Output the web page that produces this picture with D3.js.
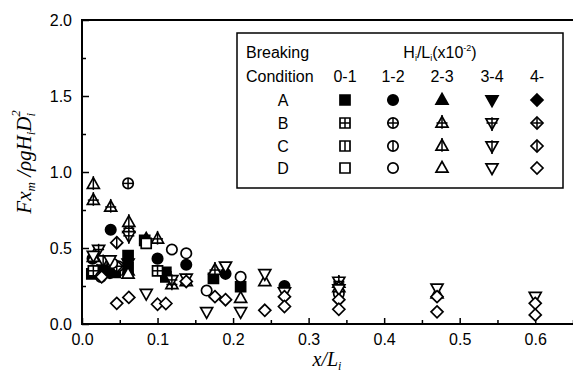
<!DOCTYPE html>
<html><head><meta charset="utf-8">
<script src="https://cdn.jsdelivr.net/npm/d3@7"></script>
<style>body{margin:0;background:#fff}svg{display:block}</style></head>
<body>
<svg id="c" width="573" height="374"></svg>
<script>
// ---- data ----
const xTicks = [0, 0.1, 0.2, 0.3, 0.4, 0.5, 0.6];
const xMinor = [0.05, 0.15, 0.25, 0.35, 0.45, 0.55, 0.65];
const yTicks = [0, 0.5, 1.0, 1.5, 2.0];
const yMinor = [0.25, 0.75, 1.25, 1.75];
const conditions = ["A", "B", "C", "D"];
const steepness = ["0-1", "1-2", "2-3", "3-4", "4-"];
const shapes = ["square", "circle", "triUp", "triDown", "diamond"];

// series: condition + steepness class, [x/L, F]
const A_01 = [[0.013,0.33],[0.044,0.34],[0.061,0.45],[0.061,0.37],[0.083,0.55],[0.111,0.34],[0.111,0.31],[0.174,0.30],[0.21,0.245]];
const A_12 = [[0.014,0.43],[0.037,0.335],[0.038,0.62],[0.10,0.43],[0.138,0.39],[0.19,0.33],[0.268,0.25]];
const A_23 = [[0.085,0.56],[0.061,0.35]];
const A_34 = [[0.061,0.40],[0.03,0.36]];
const A_4  = [[0.02,0.35]];
const B_01 = [[0.015,0.35],[0.10,0.35]];
const B_12 = [[0.061,0.925],[0.048,0.38]];
const B_23 = [[0.015,0.815],[0.038,0.77],[0.062,0.63],[0.10,0.56],[0.176,0.355],[0.119,0.26],[0.34,0.27]];
const B_34 = [[0.022,0.49],[0.062,0.58],[0.119,0.29],[0.34,0.28]];
const B_4  = [[0.046,0.38]];
const C_01 = [];
const C_12 = [];
const C_23 = [[0.015,0.92],[0.062,0.67]];
const C_34 = [[0.028,0.42]];
const C_4  = [[0.046,0.535]];
const D_01 = [[0.085,0.53]];
const D_12 = [[0.119,0.49],[0.138,0.465],[0.165,0.22],[0.21,0.31],[0.34,0.20],[0.025,0.31],[0.04,0.40]];
const D_23 = [[0.061,0.33],[0.21,0.17],[0.242,0.28],[0.138,0.28],[0.47,0.20],[0.34,0.24],[0.015,0.44]];
const D_34 = [[0.037,0.42],[0.085,0.20],[0.138,0.30],[0.165,0.08],[0.19,0.38],[0.21,0.08],[0.242,0.33],[0.268,0.21],[0.47,0.235],[0.60,0.18],[0.34,0.23],[0.015,0.45]];
const D_4  = [[0.026,0.31],[0.046,0.136],[0.062,0.175],[0.10,0.13],[0.111,0.135],[0.138,0.28],[0.176,0.18],[0.19,0.16],[0.242,0.09],[0.268,0.18],[0.268,0.115],[0.34,0.16],[0.34,0.097],[0.47,0.18],[0.47,0.08],[0.60,0.136],[0.60,0.06]];

const series = {
  A: [A_01, A_12, A_23, A_34, A_4],
  B: [B_01, B_12, B_23, B_34, B_4],
  C: [C_01, C_12, C_23, C_34, C_4],
  D: [D_01, D_12, D_23, D_34, D_4]
};

// ---- drawing ----
const svg = d3.select("#c");
const x = d3.scaleLinear().domain([0, 0.65]).range([82, 573]);
const y = d3.scaleLinear().domain([0, 2]).range([324, 20]);

function shapePath(s) {
  switch (s) {
    case "square": return "M-5,-5H5V5H-5Z";
    case "circle": return "M5.2,0A5.2,5.2 0 1,1 -5.2,0A5.2,5.2 0 1,1 5.2,0Z";
    case "triUp": return "M0,-6.5L6,4.2L-6,4.2Z";
    case "triDown": return "M0,6.5L6,-4.2L-6,-4.2Z";
    case "diamond": return "M0,-6L6,0L0,6L-6,0Z";
  }
}
const ext = {square:[5,5,5], circle:[5.2,5.2,5.2], triUp:[6.5,4.2,6], triDown:[4.2,6.5,6], diamond:[6,6,6]};

function marker(g, cx, cy, shape, cond) {
  const m = g.append("g").attr("transform", `translate(${cx},${cy})`);
  m.append("path").attr("d", shapePath(shape))
    .attr("fill", cond === "A" ? "#000" : "#fff")
    .attr("stroke", "#000").attr("stroke-width", 1.7).attr("stroke-linejoin", "miter");
  const [top, bot, half] = ext[shape];
  if (cond === "B" || cond === "C") {
    const o = shape.startsWith("tri") ? 1.5 : 0;
    m.append("line").attr("x1", 0).attr("x2", 0).attr("y1", -top - o).attr("y2", bot + o)
      .attr("stroke", "#000").attr("stroke-width", 1.5);
  }
  if (cond === "B") {
    const o = shape.startsWith("tri") ? 1 : 0;
    const hh = shape.startsWith("tri") ? 4.5 : half;
    m.append("line").attr("x1", -hh - o).attr("x2", hh + o).attr("y1", 0).attr("y2", 0)
      .attr("stroke", "#000").attr("stroke-width", 1.5);
  }
}

// frame
svg.append("rect").attr("x", x(0)).attr("y", y(2)).attr("width", 620).attr("height", y(0) - y(2))
  .attr("fill", "none").attr("stroke", "#000").attr("stroke-width", 2);

const fontSans = "'Liberation Sans', Arial, sans-serif";
const fontSerif = "'Liberation Serif', 'Times New Roman', serif";

svg.append("g").attr("transform", `translate(0,${y(0)})`)
  .call(d3.axisBottom(x).tickValues(xTicks).tickSize(-6).tickPadding(10).tickFormat(d3.format(".1f")));
svg.append("g").attr("transform", `translate(0,${y(0)})`)
  .call(d3.axisBottom(x).tickValues(xMinor).tickSize(-4).tickFormat(""));
svg.append("g").attr("transform", `translate(${x(0)},0)`)
  .call(d3.axisLeft(y).tickValues(yTicks).tickSize(-7).tickPadding(10).tickFormat(d3.format(".1f")));
svg.append("g").attr("transform", `translate(${x(0)},0)`)
  .call(d3.axisLeft(y).tickValues(yMinor).tickSize(-4).tickFormat(""));
svg.selectAll(".domain").remove();
svg.selectAll(".tick line").attr("stroke", "#000").attr("stroke-width", 1.5);
svg.selectAll(".tick text").attr("font-family", fontSans).attr("font-size", 16).attr("fill", "#000");

// points
const pts = svg.append("g");
conditions.forEach(c => {
  series[c].forEach((arr, i) => {
    arr.forEach(d => marker(pts, x(d[0]), y(d[1]), shapes[i], c));
  });
});

// axis labels
const xl = svg.append("text").attr("x", 327).attr("y", 366).attr("text-anchor", "middle")
  .attr("font-family", fontSerif).attr("font-style", "italic").attr("font-size", 20);
xl.append("tspan").text("x/L");
xl.append("tspan").attr("font-size", 12).attr("dy", 4).text("i");

const yl = svg.append("text").attr("transform", "translate(31,162) rotate(-90)").attr("text-anchor", "middle")
  .attr("font-family", fontSerif).attr("font-style", "italic").attr("font-size", 21);
yl.append("tspan").text("Fx");
yl.append("tspan").attr("font-size", 13).attr("dy", 4).text("m");
yl.append("tspan").attr("dy", -4).text(" /ρgH");
yl.append("tspan").attr("font-size", 13).attr("dy", 4).text("i");
yl.append("tspan").attr("dy", -4).text("D");
yl.append("tspan").attr("font-size", 13).attr("dy", 4).text("i");
yl.append("tspan").attr("font-size", 13).attr("dx", -4).attr("dy", -15).text("2");

// legend
const lg = svg.append("g");
lg.append("rect").attr("x", 237).attr("y", 33).attr("width", 326).attr("height", 155)
  .attr("fill", "#fff").attr("stroke", "#000").attr("stroke-width", 1.5);
const lt = (t, px, py, anchor) => lg.append("text").attr("x", px).attr("y", py)
  .attr("text-anchor", anchor || "start").attr("font-family", fontSans).attr("font-size", 16).text(t);
lt("Breaking", 246, 58);
lt("Condition", 246, 82);
const hh = lg.append("text").attr("x", 440).attr("y", 58).attr("text-anchor", "middle")
  .attr("font-family", fontSans).attr("font-size", 16);
hh.append("tspan").text("H");
hh.append("tspan").attr("font-size", 9).attr("dy", 3).text("i");
hh.append("tspan").attr("dy", -3).text("/L");
hh.append("tspan").attr("font-size", 9).attr("dy", 3).text("i");
hh.append("tspan").attr("dy", -3).text("(x10");
hh.append("tspan").attr("font-size", 9).attr("dy", -7).text("-2");
hh.append("tspan").attr("dy", 7).text(")");
const colX = [345, 393, 442, 492, 537];
const rowY = [100, 123, 146, 168];
steepness.forEach((s, i) => lt(s, colX[i], 82, "middle"));
conditions.forEach((c, j) => {
  lt(c, 283, rowY[j] + 6, "middle");
  shapes.forEach((sh, i) => marker(lg, colX[i], rowY[j], sh, c));
});
</script>
</body></html>
